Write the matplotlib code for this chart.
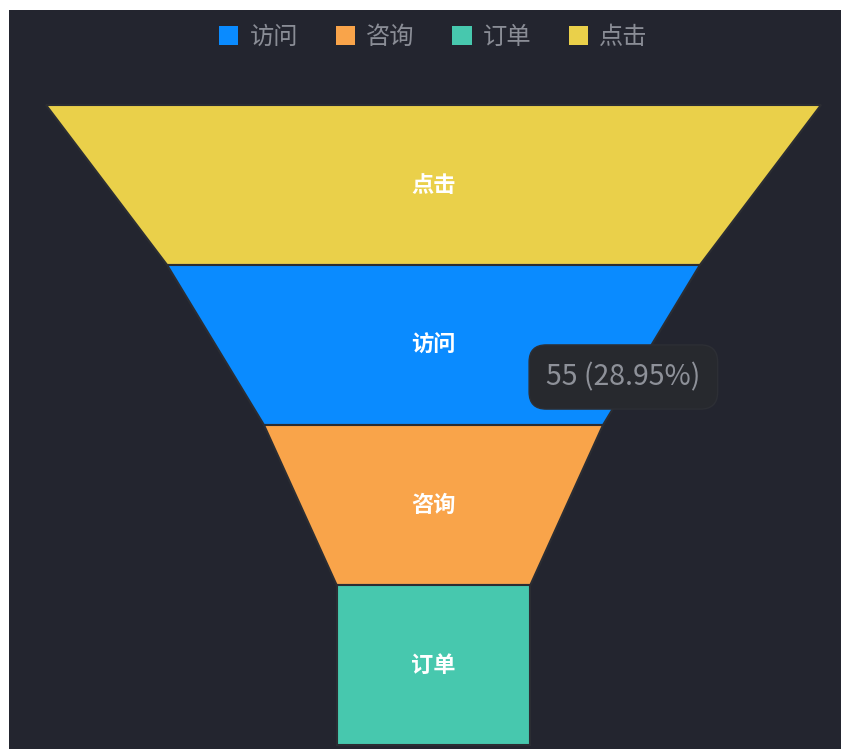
import matplotlib
matplotlib.use('Agg')
import matplotlib.pyplot as plt
from matplotlib.patches import Polygon, Patch

plt.rcParams['font.family'] = ['Noto Sans CJK SC', 'DejaVu Sans']

# 漏斗数据（从上到下）
stages = ['点击', '访问', '咨询', '订单']
values = [80, 55, 35, 20]
colors = ['#EAD04A', '#0A8BFF', '#F9A44A', '#47C8AE']
# 图例顺序
legend_names = ['访问', '咨询', '订单', '点击']

bg = '#23252F'
total = sum(values)
vmax = max(values)

fig = plt.figure(figsize=(8.41, 7.49), dpi=100)
fig.patch.set_facecolor('white')
ax = fig.add_axes([9 / 841, 0, 832 / 841, 739 / 749])
ax.set_facecolor(bg)

n = len(stages)
for i, (name, v, c) in enumerate(zip(stages, values, colors)):
    top = n - i
    bot = top - 1
    w_top = v
    # 下一个的宽度作为底边，最后一个保持矩形
    w_bot = values[i + 1] if i + 1 < n else v
    poly = Polygon([(-w_top / 2, top), (w_top / 2, top),
                    (w_bot / 2, bot), (-w_bot / 2, bot)],
                   closed=True, facecolor=c, edgecolor='#2b2d33', linewidth=1.5)
    ax.add_patch(poly)
    ax.text(0, top - 0.5, name, color='white', fontsize=16, fontweight='semibold',
            ha='center', va='center')

# 提示框
idx = stages.index('访问')
v = values[idx]
ax.text(19.6, n - idx - 0.7, f'{v} ({v / total * 100:.2f}%)', color='#8e9199',
        fontsize=20.5, ha='center', va='center',
        bbox=dict(boxstyle='round,pad=0.6,rounding_size=0.6',
                  facecolor='#27292e', edgecolor='#2d2f35', linewidth=1))

scale = 775 / vmax
ax.set_xlim(-424.5 / scale, 407.5 / scale)
ax.set_ylim(-4 / 160, n + 95 / 160)
ax.set_xticks([])
ax.set_yticks([])
for s in ax.spines.values():
    s.set_visible(False)

handles = [Patch(facecolor=colors[stages.index(nm)], edgecolor='none', label=nm)
           for nm in legend_names]
leg = ax.legend(handles=handles, loc='upper center', bbox_to_anchor=(0.51, 0.994),
                ncol=4, frameon=False, fontsize=17.5, handlelength=0.8,
                handleheight=0.8, handletextpad=0.45, columnspacing=1.55,
                borderaxespad=0.0)
for t in leg.get_texts():
    t.set_color('#8a8d96')

fig.savefig('out.png', dpi=100, facecolor=fig.get_facecolor())
